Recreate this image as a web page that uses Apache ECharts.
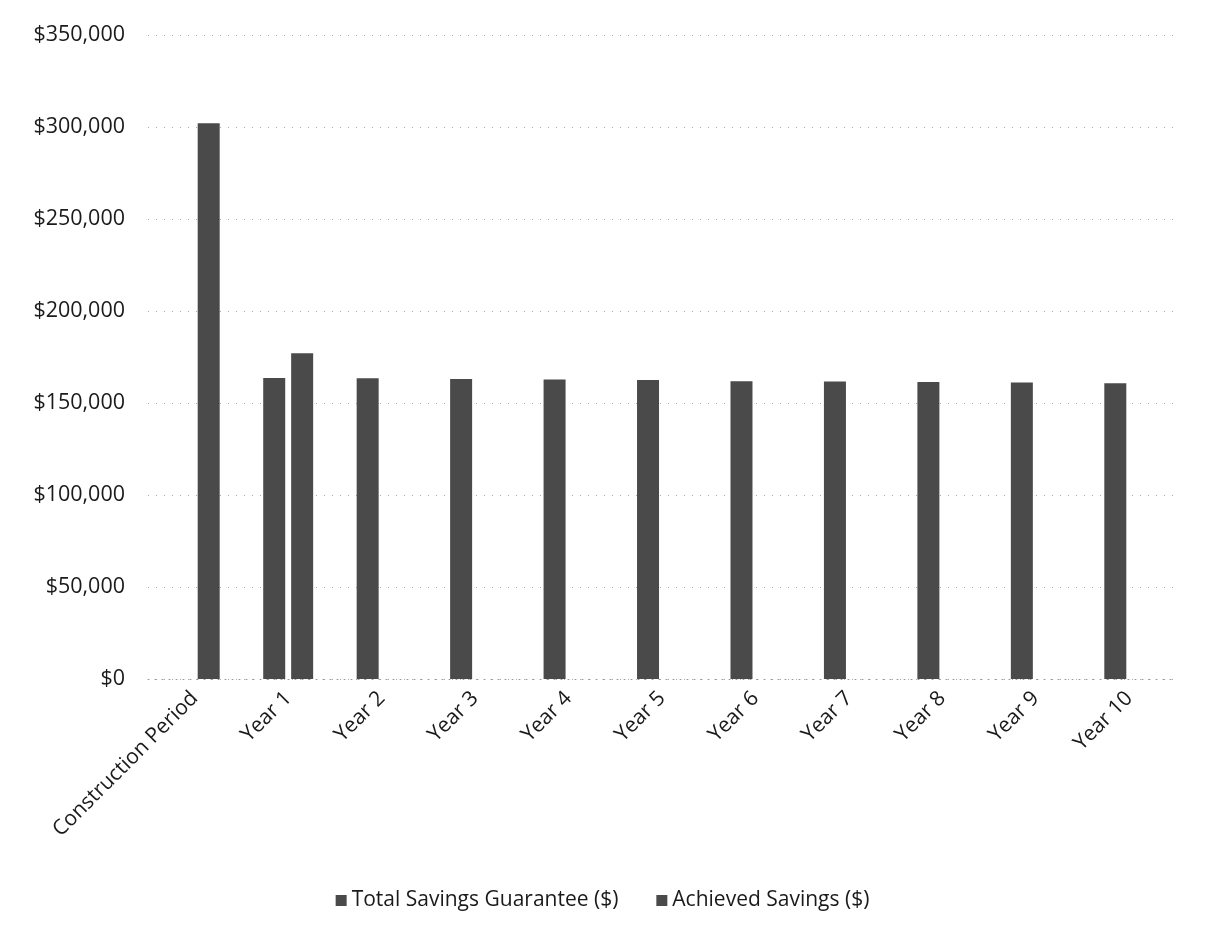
<!DOCTYPE html>
<html>
<head>
<meta charset="utf-8">
<script src="https://cdn.jsdelivr.net/npm/echarts@6/dist/echarts.min.js"></script>
<style>html,body{margin:0;padding:0;background:#fff;}#c{width:1205px;height:942px;}</style>
</head>
<body>
<div id="c"></div>
<script>
const categories = ["Construction Period","Year 1","Year 2","Year 3","Year 4","Year 5","Year 6","Year 7","Year 8","Year 9","Year 10"];
const guaranteeValues = [null,163600,163400,163000,162800,162500,161800,161700,161400,161100,160800];
const achievedValues = [302000,177000,null,null,null,null,null,null,null,null,null];
const yTicks = [0,50000,100000,150000,200000,250000,300000,350000];
const seriesNames = ["Total Savings Guarantee ($)","Achieved Savings ($)"];

const chart = echarts.init(document.getElementById('c'));
const font = '"Open Sans", "Liberation Sans", sans-serif';
const barColor = '#4a4a4a';
chart.setOption({
  animation: false,
  backgroundColor: '#fff',
  textStyle: { fontFamily: font },
  grid: { left: 148, right: 29, top: 35, bottom: 263, containLabel: false },
  legend: {
    data: seriesNames,
    bottom: 26,
    left: 'center',
    itemWidth: 11,
    itemHeight: 11,
    itemGap: 38,
    icon: 'rect',
    textStyle: { fontSize: 21, color: '#1a1a1a', fontFamily: font }
  },
  xAxis: {
    type: 'category',
    data: categories,
    axisLine: { show: true, lineStyle: { color: '#999', type: [1, 6] } },
    axisTick: { show: false },
    axisLabel: { rotate: 45, margin: 16, fontSize: 21, color: '#1a1a1a', interval: 0 }
  },
  yAxis: {
    type: 'value',
    min: yTicks[0],
    max: yTicks[yTicks.length - 1],
    interval: yTicks[1] - yTicks[0],
    axisLine: { show: false },
    axisTick: { show: false },
    axisLabel: {
      fontSize: 21.5, color: '#1a1a1a', margin: 23,
      formatter: v => '$' + v.toLocaleString('en-US')
    },
    splitLine: { show: true, lineStyle: { color: '#aaa', type: [1, 7], width: 1 } }
  },
  series: [
    { name: seriesNames[0], type: 'bar', data: guaranteeValues, barWidth: 22, barGap: '27%', itemStyle: { color: barColor } },
    { name: seriesNames[1], type: 'bar', data: achievedValues, barWidth: 22, barGap: '27%', itemStyle: { color: barColor } }
  ]
});
</script>
</body>
</html>
